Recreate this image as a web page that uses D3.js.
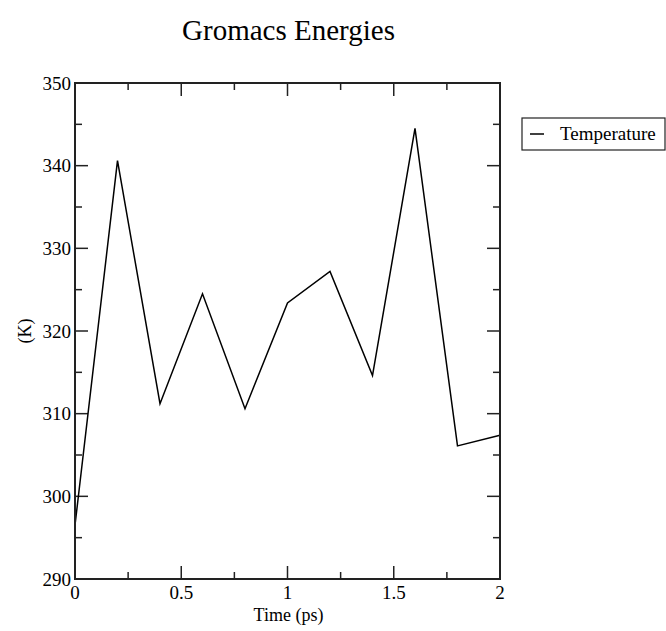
<!DOCTYPE html>
<html><head><meta charset="utf-8">
<script src="https://cdn.jsdelivr.net/npm/d3@7"></script>
<style>body{margin:0;background:#fff}svg{display:block}text{font-family:"Liberation Serif","Times New Roman",serif;fill:#000}</style>
</head><body><svg id="c" width="666" height="631"></svg>
<script>
const times = [0, 0.2, 0.4, 0.6, 0.8, 1.0, 1.2, 1.4, 1.6, 1.8, 2.0];
const temperature = [296.5, 340.6, 311.2, 324.5, 310.6, 323.4, 327.2, 314.6, 344.5, 306.1, 307.4];
const xMajorTicks = [0, 0.5, 1, 1.5, 2];
const xTickLabels = ["0", "0.5", "1", "1.5", "2"];
const xMinorTicks = [0.25, 0.75, 1.25, 1.75];
const yMajorTicks = [290, 300, 310, 320, 330, 340, 350];
const yMinorTicks = [295, 305, 315, 325, 335, 345];
const title = "Gromacs Energies";
const xLabel = "Time (ps)";
const yLabel = "(K)";
const seriesName = "Temperature";

const svg = d3.select("#c");
const L = 75, R = 500, T = 83, B = 579;
const x = d3.scaleLinear().domain([0, 2]).range([L, R]);
const y = d3.scaleLinear().domain([290, 350]).range([B, T]);

const frameColor = "#222";
const majorLen = 13, minorLen = 7;
const g = svg.append("g").attr("stroke", frameColor).attr("stroke-width", 1.5);
xMajorTicks.forEach(v => {
  g.append("line").attr("x1", x(v)).attr("x2", x(v)).attr("y1", B).attr("y2", B - majorLen);
  g.append("line").attr("x1", x(v)).attr("x2", x(v)).attr("y1", T).attr("y2", T + majorLen);
});
xMinorTicks.forEach(v => {
  g.append("line").attr("x1", x(v)).attr("x2", x(v)).attr("y1", B).attr("y2", B - minorLen);
  g.append("line").attr("x1", x(v)).attr("x2", x(v)).attr("y1", T).attr("y2", T + minorLen);
});
yMajorTicks.forEach(v => {
  g.append("line").attr("x1", L).attr("x2", L + majorLen).attr("y1", y(v)).attr("y2", y(v));
  g.append("line").attr("x1", R).attr("x2", R - majorLen).attr("y1", y(v)).attr("y2", y(v));
});
yMinorTicks.forEach(v => {
  g.append("line").attr("x1", L).attr("x2", L + minorLen).attr("y1", y(v)).attr("y2", y(v));
  g.append("line").attr("x1", R).attr("x2", R - minorLen).attr("y1", y(v)).attr("y2", y(v));
});

const line = d3.line().x((d, i) => x(times[i])).y(d => y(d));
svg.append("path").datum(temperature).attr("d", line)
  .attr("fill", "none").attr("stroke", "#000").attr("stroke-width", 1.5);

svg.append("rect").attr("x", L).attr("y", T).attr("width", R - L).attr("height", B - T)
  .attr("fill", "none").attr("stroke", frameColor).attr("stroke-width", 2);

xMajorTicks.forEach((v, i) => {
  svg.append("text").attr("x", x(v)).attr("y", 599).attr("text-anchor", "middle")
    .attr("font-size", 19).text(xTickLabels[i]);
});
yMajorTicks.forEach(v => {
  svg.append("text").attr("x", 71).attr("y", y(v) + 6.5).attr("text-anchor", "end")
    .attr("font-size", 19).text(String(v));
});

svg.append("text").attr("x", (L + R) / 2 + 1).attr("y", 621).attr("text-anchor", "middle")
  .attr("font-size", 18).text(xLabel);
svg.append("text").attr("transform", `translate(31,${(T + B) / 2}) rotate(-90)`)
  .attr("text-anchor", "middle").attr("font-size", 18).text(yLabel);

svg.append("text").attr("x", 288.5).attr("y", 40).attr("text-anchor", "middle")
  .attr("font-size", 29).text(title);

svg.append("rect").attr("x", 522).attr("y", 118).attr("width", 143).attr("height", 32)
  .attr("fill", "none").attr("stroke", frameColor).attr("stroke-width", 1.2);
svg.append("line").attr("x1", 530).attr("x2", 544).attr("y1", 134).attr("y2", 134)
  .attr("stroke", "#000").attr("stroke-width", 1.5);
svg.append("text").attr("x", 560).attr("y", 140).attr("font-size", 19).text(seriesName);
</script></body></html>
